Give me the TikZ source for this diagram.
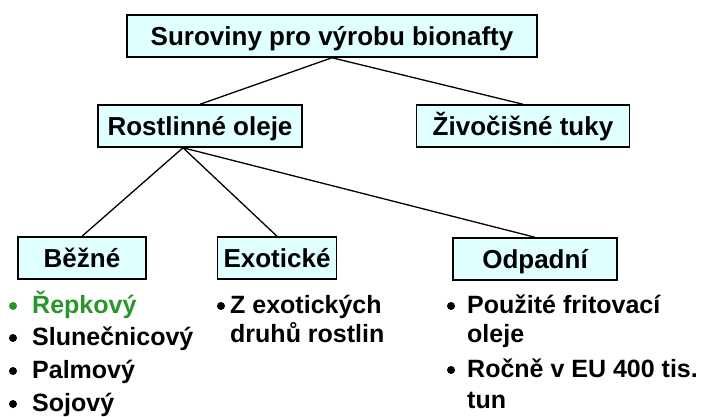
\documentclass[tikz,border=0pt]{standalone}
\usepackage{fontspec}
\setmainfont{Liberation Sans}
\definecolor{boxfill}{RGB}{224,255,255}
\definecolor{leafgreen}{RGB}{40,150,40}

\begin{document}
\begin{tikzpicture}[x=1pt,y=-1pt,
	box/.style={draw, line width=1.5pt, fill=boxfill, inner sep=0pt,
		minimum height=42pt, text height=19pt, text depth=0pt,
		font=\fontsize{26}{30}\selectfont\bfseries},
	item/.style={anchor=base west, inner sep=0pt,
		font=\fontsize{25}{29}\selectfont\bfseries}]
	\useasboundingbox (0,0) rectangle (703,416);
	% boxes
	\node [box, minimum width=410pt] (root) at (332,36) {Suroviny pro výrobu bionafty};
	\node [box, minimum width=204pt] (rost) at (200,126) {Rostlinné oleje};
	\node [box, minimum width=213pt] (ziv) at (523,126) {Živočišné tuky};
	\node [box, minimum width=128pt] (bezne) at (82,258) {Běžné};
	\node [box, minimum width=119pt] (exot) at (277,258) {Exotické};
	\node [box, minimum width=164pt] (odpad) at (535,259) {Odpadní};
	% connectors
	\coordinate (fork) at ([xshift=-17pt]rost.south);
	\draw [line width=1.3pt] (root.south) -- (rost.north);
	\draw [line width=1.3pt] (root.south) -- (ziv.north);
	\foreach \n in {bezne,exot,odpad}{
		\draw [line width=1.3pt] (fork) -- (\n.north);
	}
	% lists
	\fill [leafgreen] (13,306) circle (4pt);
	\node [item, text=leafgreen] (b1) at (32,313) {Řepkový};
	\foreach \y/\t [count=\i from 2] in {345/Slunečnicový,378/Palmový,411/Sojový}{
		\fill (13,\y-7) circle (4pt);
		\node [item] (b\i) at (32,\y) {\t};
	}
	\fill (221,306) circle (4pt);
	\node [item] (e1) at (230,313) {Z exotických};
	\node [item] (e2) at (230,342) {druhů rostlin};
	\fill (451,306) circle (4pt);
	\node [item] (o1) at (467,313) {Použité fritovací};
	\node [item] (o2) at (467,342) {oleje};
	\fill (451,370) circle (4pt);
	\node [item] (o3) at (467,377) {Ročně v EU 400 tis.};
	\node [item] (o4) at (467,408) {tun};
\end{tikzpicture}
\end{document}
